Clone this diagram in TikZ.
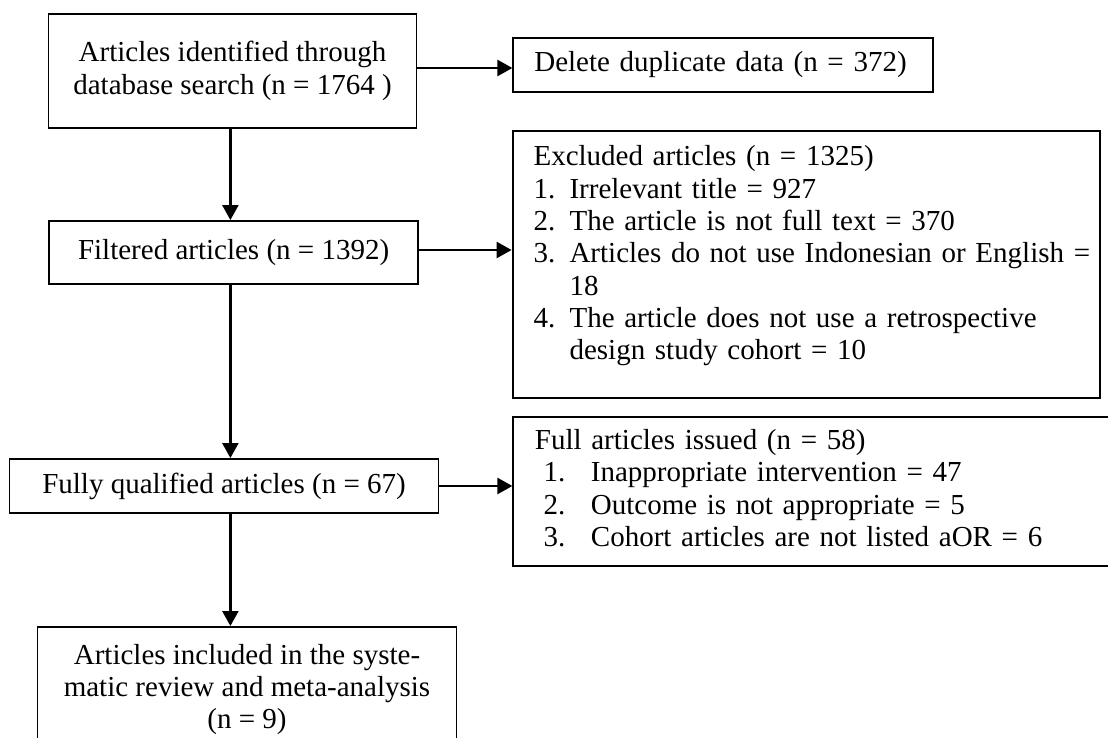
\documentclass[tikz,border=0pt]{standalone}
\usepackage{fontspec}
\setmainfont{Liberation Serif}
\usetikzlibrary{arrows.meta}
\tikzset{
  box/.style={draw, line width=1.9pt, inner sep=0pt, align=center},
  listbox/.style={draw, line width=1.9pt, inner xsep=21pt, inner ysep=12.4pt, anchor=north west, align=left},
  arr/.style={line width=2.4pt, -{Triangle[length=15pt,width=16pt]}}
}
\begin{document}
\begin{tikzpicture}[x=1pt, y=-1pt, every node/.style={font=\fontsize{29}{32.3}\selectfont}]
            \useasboundingbox (0,0) rectangle (1108,738);
            \clip (0,0) rectangle (1108,738);

            %Nodes
            \node[box, minimum width=368pt, minimum height=114pt] at (232.5,71) (ident) {Articles identified through\\database search (n = 1764 )};
            \node[box, minimum width=368.6pt, minimum height=63pt] at (233.6,252.5) (filt) {Filtered articles (n = 1392)};
            \node[box, minimum width=429pt, minimum height=54pt] at (224,486) (qual) {Fully qualified articles (n = 67)};
            \node[box, anchor=north, minimum width=419pt, inner ysep=17pt] at (247,626) (incl) {Articles included in the syste-\\matic review and meta-analysis\\(n = 9)\rule[-60pt]{0pt}{0pt}};
            \node[listbox, anchor=west, inner ysep=0pt, minimum height=54pt, text width=378pt] at (512.4,65) (dup) {Delete duplicate data (n = 372)};
            \node[listbox, text width=545pt] at (511.6,130) (excl) {\noindent\begin{tabular}{@{}p{36pt}@{}l@{}}
              \multicolumn{2}{@{}l@{}}{Excluded articles (n = 1325)}\\
              1. & Irrelevant title = 927\\
              2. & The article is not full text = 370\\
              3. & Articles do not use Indonesian or English =\\
                 & 18\\
              4. & The article does not use a retrospective\\
                 & design study cohort = 10\rule[-26pt]{0pt}{0pt}
            \end{tabular}};
            \node[listbox, text width=700pt, inner xsep=21.6pt, inner ysep=10pt] at (512.4,416) (full) {\noindent\begin{tabular}{@{\hspace{8.7pt}}p{47.3pt}@{}l@{}}
              \multicolumn{2}{@{}l@{}}{Full articles issued (n = 58)}\\
              1. & Inappropriate intervention = 47\\
              2. & Outcome is not appropriate = 5\\
              3. & Cohort articles are not listed aOR = 6
            \end{tabular}};
            \coordinate (spine) at (230.4,0);

            %Lines
            \draw[arr] (ident.south -| spine) -- (filt.north -| spine);
            \draw[arr] (filt.south -| spine) -- (qual.north -| spine);
            \draw[arr] (qual.south -| spine) -- (incl.north -| spine);
            \draw[arr] ([yshift=3pt]ident.east) -- ([yshift=3pt]ident.east -| dup.west);
            \draw[arr] ([yshift=2.5pt]filt.east) -- ([yshift=2.5pt]filt.east -| excl.west);
            \draw[arr] (qual.east) -- (qual.east -| full.west);
        \end{tikzpicture}
\end{document}
